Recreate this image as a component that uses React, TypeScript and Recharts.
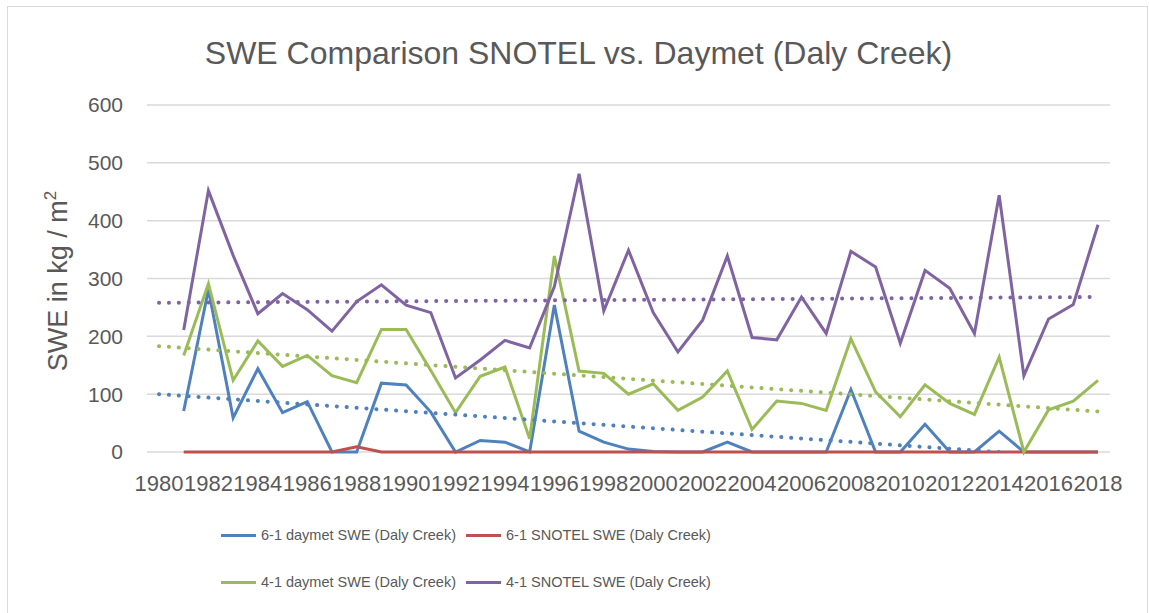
import React from "react";
import { LineChart, Line, XAxis, YAxis, CartesianGrid, Legend, Label } from "recharts";

const FONT = "'Liberation Sans', Arial, sans-serif";
const TEXT = "#595959";
const GRID = "#D9D9D9";

const YEARS = [
  "1980", "1981", "1982", "1983", "1984", "1985", "1986", "1987", "1988", "1989",
  "1990", "1991", "1992", "1993", "1994", "1995", "1996", "1997", "1998", "1999",
  "2000", "2001", "2002", "2003", "2004", "2005", "2006", "2007", "2008", "2009",
  "2010", "2011", "2012", "2013", "2014", "2015", "2016", "2017", "2018",
];

// values for 1981..2018 (no data in 1980)
const daymet61 = [
  71, 281, 59, 144, 68, 87, 0, 0, 119, 116, 69, 0, 20, 17, 0, 254, 36, 17, 5, 1,
  0, 0, 17, 0, 0, 0, 0, 108, 0, 0, 48, 0, 0, 36, 0, 0, 0, 0,
];
const snotel61 = [
  0, 0, 0, 0, 0, 0, 0, 9, 0, 0, 0, 0, 0, 0, 0, 0, 0, 0, 0, 0,
  0, 0, 0, 0, 0, 0, 0, 0, 0, 0, 0, 0, 0, 0, 0, 0, 0, 0,
];
const daymet41 = [
  167, 291, 124, 192, 148, 167, 132, 120, 212, 212, 141, 68, 131, 147, 23, 339, 140, 136, 100, 118,
  72, 95, 140, 39, 88, 84, 72, 196, 104, 61, 116, 84, 65, 164, 0, 73, 88, 124,
];
const snotel41 = [
  211, 452, 340, 239, 274, 246, 209, 260, 289, 254, 241, 128, 159, 193, 180, 286, 481, 244, 349, 241,
  173, 228, 339, 198, 194, 268, 205, 347, 320, 188, 314, 283, 205, 444, 132, 230, 255, 393,
];

// linear trendlines, ends read at 1980 and 2018
const TREND_YEARS = ["1980", "2018"];
const trendDaymet61 = [100, -12];
const trendDaymet41 = [183, 70];
const trendSnotel41 = [258, 268];

const Y_TICKS = [0, 100, 200, 300, 400, 500, 600];

const SERIES = [
  { key: "daymet61", name: "6-1 daymet SWE (Daly Creek)", color: "#4F81BD", values: daymet61 },
  { key: "snotel61", name: "6-1 SNOTEL SWE (Daly Creek)", color: "#C0504D", values: snotel61 },
  { key: "daymet41", name: "4-1 daymet SWE (Daly Creek)", color: "#9BBB59", values: daymet41 },
  { key: "snotel41", name: "4-1 SNOTEL SWE (Daly Creek)", color: "#8064A2", values: snotel41 },
];

const TRENDS = [
  { key: "trendDaymet61", color: "#4F81BD", values: trendDaymet61 },
  { key: "trendDaymet41", color: "#9BBB59", values: trendDaymet41 },
  { key: "trendSnotel41", color: "#8064A2", values: trendSnotel41 },
];

const data = YEARS.map((year, i) => {
  const row: Record<string, string | number | null> = { year };
  SERIES.forEach((s) => {
    row[s.key] = i === 0 ? null : s.values[i - 1];
  });
  const t = TREND_YEARS.indexOf(year);
  TRENDS.forEach((tr) => {
    row[tr.key] = t >= 0 ? tr.values[t] : null;
  });
  return row;
});

function YTitle() {
  return (
    <text
      x={67}
      y={281}
      transform="rotate(-90, 67, 281)"
      textAnchor="middle"
      fill={TEXT}
      fontSize={27}
      fontFamily={FONT}
    >
      SWE in kg / m
      <tspan fontSize={17} dy={-11}>2</tspan>
    </text>
  );
}

function renderLegend() {
  return (
    <div style={{ position: "relative", width: 1149, height: 80, fontFamily: FONT }}>
      {SERIES.map((s, i) => (
        <div
          key={s.key}
          style={{
            position: "absolute",
            left: i % 2 === 0 ? 221 : 466,
            top: i < 2 ? 0 : 47,
            height: 30,
            display: "flex",
            alignItems: "center",
            whiteSpace: "nowrap",
          }}
        >
          <span style={{ display: "inline-block", width: 35, height: 3, background: s.color, marginRight: 5 }} />
          <span style={{ fontSize: 14.5, color: TEXT }}>{s.name}</span>
        </div>
      ))}
    </div>
  );
}

export default function App() {
  return (
    <div
      style={{
        position: "absolute",
        left: 0,
        top: 0,
        width: 1149,
        height: 613,
        background: "#fff",
        overflow: "hidden",
        fontFamily: FONT,
      }}
    >
      <div
        style={{
          position: "absolute",
          left: 7,
          top: 6,
          width: 1139,
          height: 640,
          border: `1px solid ${GRID}`,
        }}
      />
      <div
        style={{
          position: "absolute",
          left: 4,
          top: 37,
          width: 1149,
          textAlign: "center",
          fontSize: 32,
          lineHeight: "32px",
          color: TEXT,
        }}
      >
        SWE Comparison SNOTEL vs. Daymet (Daly Creek)
      </div>
      <div style={{ position: "absolute", left: 0, top: 0 }}>
        <LineChart width={1149} height={613} data={data} margin={{ top: 105, right: 39, bottom: 131, left: 0 }}>
          <CartesianGrid vertical={false} stroke={GRID} strokeWidth={1.5} />
          <XAxis
            dataKey="year"
            interval={1}
            height={30}
            padding={{ left: 12, right: 12 }}
            tickLine={false}
            axisLine={false}
            tickMargin={17}
            tick={{ fill: TEXT, fontSize: 22, fontFamily: FONT }}
          />
          <YAxis
            width={147}
            domain={[0, 600]}
            ticks={Y_TICKS}
            axisLine={false}
            tickLine={false}
            tickMargin={18}
            tick={{ fill: TEXT, fontSize: 21, fontFamily: FONT }}
          >
            <Label content={<YTitle />} />
          </YAxis>
          <YAxis yAxisId="trend" hide domain={[0, 600]} allowDataOverflow />
          {SERIES.map((s) => (
            <Line
              key={s.key}
              type="linear"
              dataKey={s.key}
              name={s.name}
              stroke={s.color}
              strokeWidth={3}
              dot={false}
              activeDot={false}
              isAnimationActive={false}
            />
          ))}
          {TRENDS.map((t) => (
            <Line
              key={t.key}
              yAxisId="trend"
              type="linear"
              dataKey={t.key}
              stroke={t.color}
              strokeWidth={4}
              strokeDasharray="0.1 9.8"
              strokeLinecap="round"
              connectNulls
              dot={false}
              activeDot={false}
              legendType="none"
              isAnimationActive={false}
            />
          ))}
          <Legend
            layout="horizontal"
            verticalAlign="middle"
            align="center"
            content={renderLegend}
            wrapperStyle={{ left: 0, top: 520, width: 1149, height: 80 }}
          />
        </LineChart>
      </div>
    </div>
  );
}
